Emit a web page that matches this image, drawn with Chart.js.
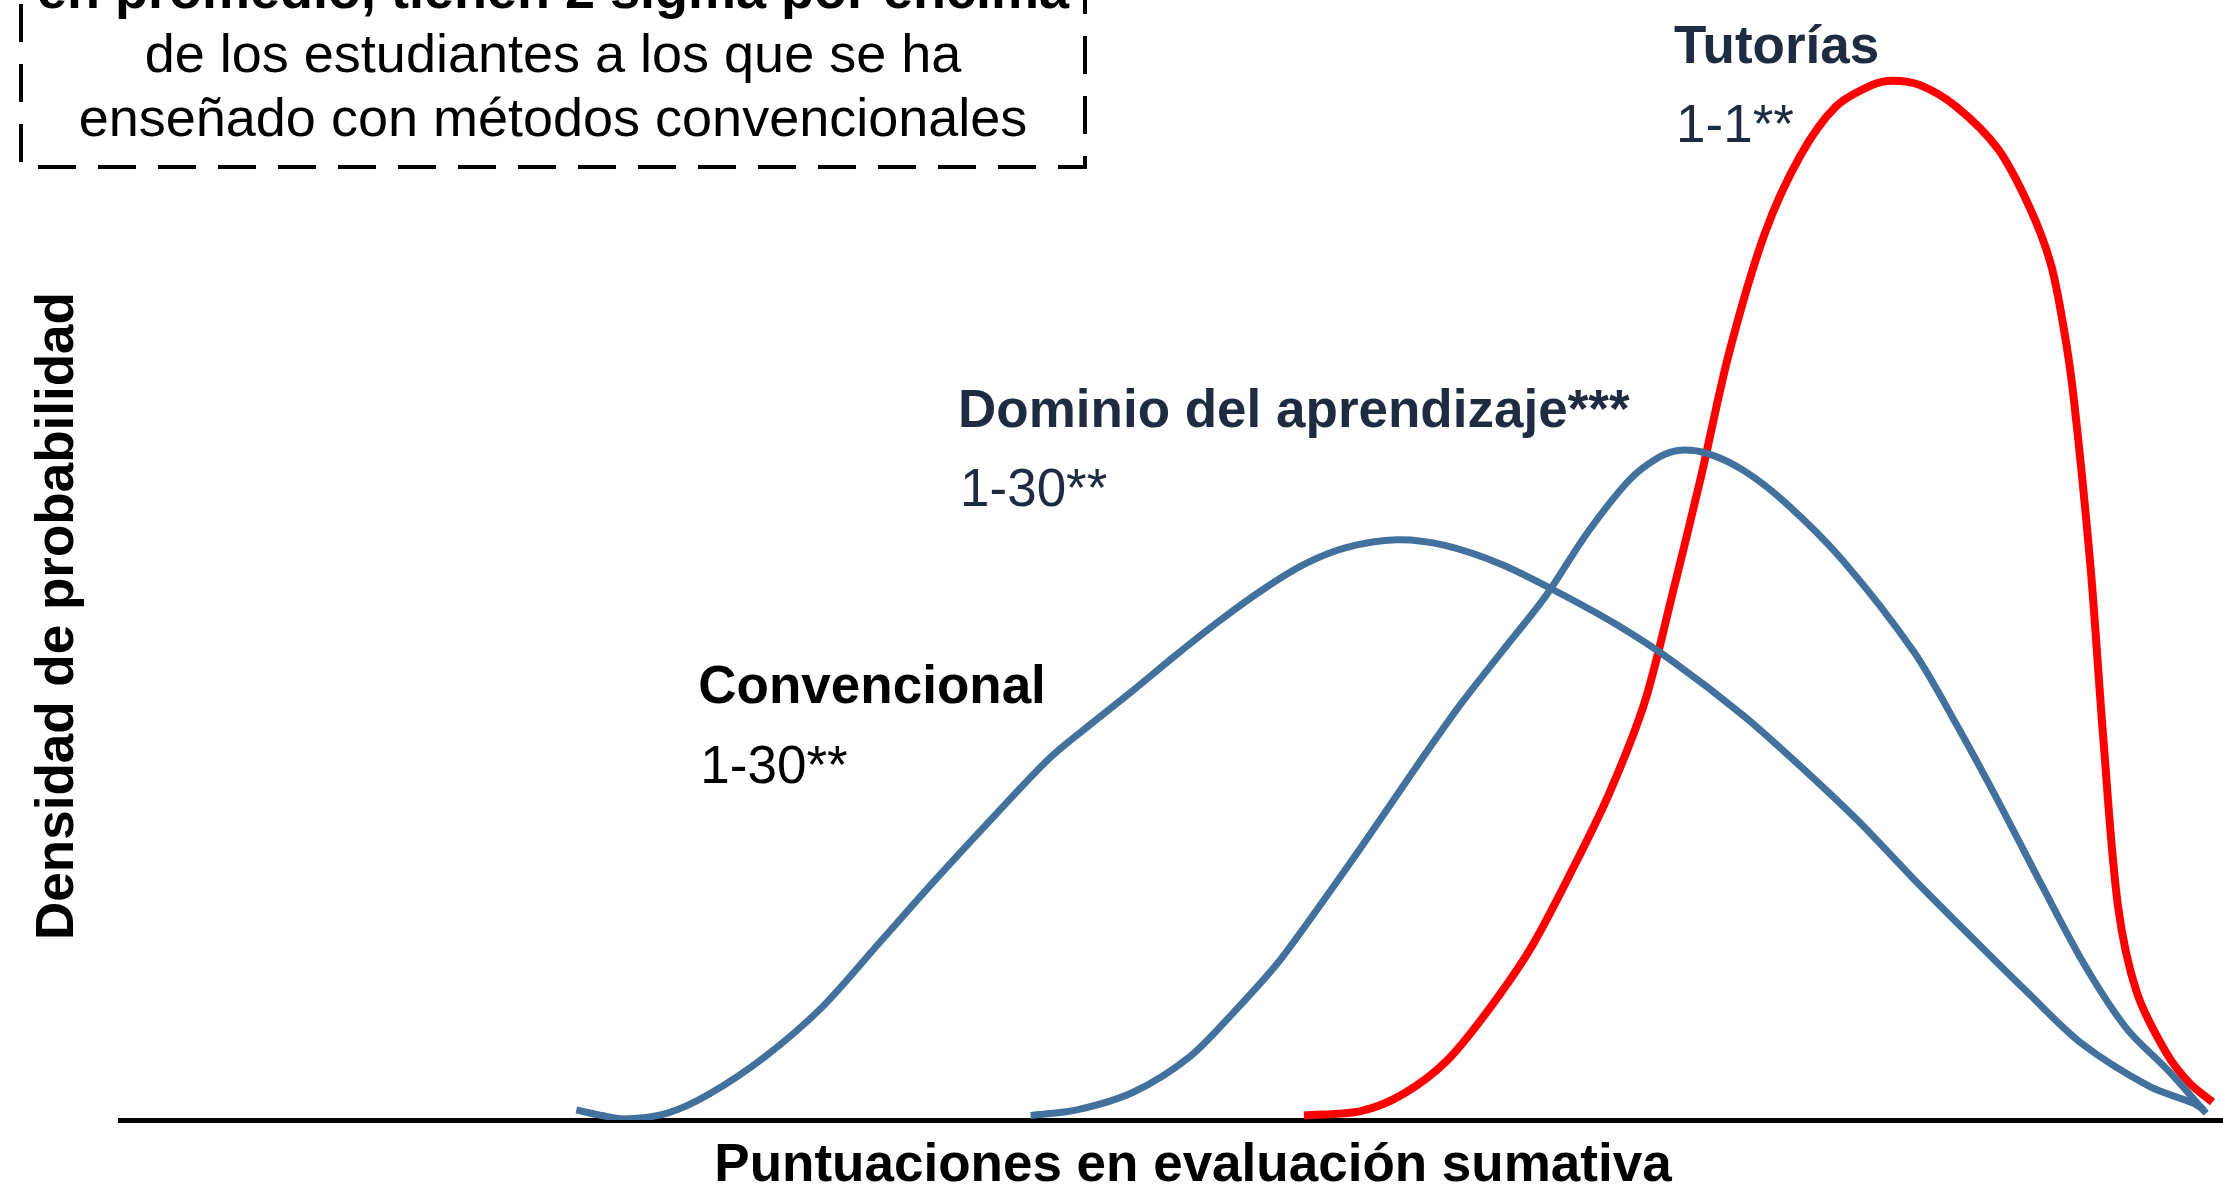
<!DOCTYPE html>
<html>
<head>
<meta charset="utf-8">
<script src="https://cdn.jsdelivr.net/npm/chart.js@4.4.1/dist/chart.umd.min.js"></script>
<style>
  html, body { margin: 0; padding: 0; background: #fff; }
  #wrap { width: 2223px; height: 1191px; position: relative; }
</style>
</head>
<body>
<div id="wrap"><canvas id="chart"></canvas></div>
<script>
// --- DATA (score on x, relative density on y) ---
const convScores = [21.7, 22.9, 24.0, 26.0, 28.0, 30.7, 33.4, 36.1, 38.8, 41.5, 44.2, 46.2, 48.2, 50.2, 52.3, 54.3, 56.3, 58.3, 60.7, 63.0, 65.7, 68.4, 71.1, 73.8, 77.2, 79.9, 82.6, 85.3, 88.0, 90.7, 93.3, 96.5, 98.6, 99.1];
const convDensity = [0.9, 0.4, 0.1, 0.6, 2.3, 5.7, 10.1, 15.8, 21.5, 27.0, 32.3, 35.4, 38.4, 41.5, 44.6, 47.3, 49.6, 51.1, 51.8, 51.3, 49.6, 47.1, 44.3, 41.0, 36.1, 31.6, 26.8, 21.5, 16.4, 11.4, 6.8, 3.0, 1.5, 0.9];

const masteryScores = [43.3, 45.5, 48.2, 50.9, 52.9, 55.0, 57.0, 59.0, 61.7, 63.7, 65.7, 67.8, 69.8, 71.8, 73.2, 74.2, 75.5, 77.2, 79.2, 81.9, 85.3, 87.3, 89.3, 91.4, 93.4, 95.4, 97.4, 99.2];
const masteryDensity = [0.4, 0.9, 2.5, 5.7, 9.5, 13.9, 19.0, 24.3, 31.7, 37.0, 41.8, 46.8, 52.5, 57.2, 59.2, 59.8, 59.5, 58.0, 55.1, 50.0, 41.8, 35.4, 28.5, 20.9, 13.9, 8.2, 4.4, 0.6];

const tutorScores = [56.3, 59.0, 61.0, 63.1, 65.1, 67.1, 69.1, 70.8, 72.5, 73.8, 75.2, 76.5, 78.2, 79.9, 81.6, 83.3, 84.3, 85.6, 87.3, 89.3, 90.8, 91.8, 92.4, 92.9, 93.7, 94.3, 95.0, 95.9, 97.3, 98.4, 99.5];
const tutorDensity = [0.4, 0.8, 2.3, 5.3, 9.9, 15.4, 22.5, 29.1, 37.3, 46.8, 57.6, 68.4, 79.1, 86.1, 90.5, 92.4, 92.8, 92.4, 90.5, 86.7, 81.5, 76.5, 71.0, 64.5, 49.4, 34.3, 19.2, 11.4, 6.0, 3.3, 1.6];

const groupNames = ['Convencional', 'Dominio del aprendizaje***', 'Tutorías'];
const groupRatios = ['1-30**', '1-30**', '1-1**'];
const noteLines = ['en promedio, tienen 2 sigma por encima', 'de los estudiantes a los que se ha', 'enseñado con métodos convencionales'];
const xTitle = 'Puntuaciones en evaluación sumativa';
const yTitle = 'Densidad de probabilidad';

// --- STYLE ---
const FONT = '"Liberation Sans", Arial, Helvetica, sans-serif';
const BLUE = '#41719c';
const RED = '#ff0000';
const NAVY = '#1e2b41';

function toPoints(xs, ys) {
    return xs.map((x, i) => ({ x: x, y: ys[i] }));
}

// labels placed in data space (score, density)
const labelSpots = [
    { x: 27.5, y: 37.2, color: '#000' },
    { x: 39.85, y: 61.9, color: NAVY },
    { x: 73.9, y: 94.4, color: NAVY }
];
const ratioGap = 7.1; // density units between name and ratio line

const notesPlugin = {
    id: 'notes',
    afterDraw(chart) {
        const ctx = chart.ctx;
        const xs = chart.scales.x;
        const ys = chart.scales.y;
        ctx.save();

        // group labels
        ctx.textAlign = 'left';
        ctx.textBaseline = 'alphabetic';
        labelSpots.forEach((s, i) => {
            const px = xs.getPixelForValue(s.x);
            ctx.fillStyle = s.color;
            ctx.font = 'bold 53px ' + FONT;
            ctx.fillText(groupNames[i], px, ys.getPixelForValue(s.y));
            ctx.font = '53px ' + FONT;
            ctx.fillText(groupRatios[i], px + 2, ys.getPixelForValue(s.y - ratioGap));
        });

        // dashed note box, cut by the top edge
        ctx.strokeStyle = '#000';
        ctx.lineWidth = 4;
        ctx.setLineDash([38, 22]);
        ctx.strokeRect(21, -40, 1064, 207);
        ctx.setLineDash([]);
        ctx.fillStyle = '#000';
        ctx.textAlign = 'center';
        ctx.font = 'bold 54px ' + FONT;
        ctx.fillText(noteLines[0], 553, 8);
        ctx.font = '54px ' + FONT;
        ctx.fillText(noteLines[1], 553, 72);
        ctx.fillText(noteLines[2], 553, 136);

        // axis titles
        ctx.font = 'bold 53px ' + FONT;
        ctx.textBaseline = 'middle';
        ctx.fillText(xTitle, 1193, 1166);
        ctx.translate(58, 616);
        ctx.rotate(-Math.PI / 2);
        ctx.fillText(yTitle, 0, 0);
        ctx.restore();
    }
};

const ctx = document.getElementById('chart').getContext('2d');
new Chart(ctx, {
    type: 'scatter',
    data: {
        datasets: [
            {
                label: groupNames[0],
                data: toPoints(convScores, convDensity),
                borderColor: BLUE,
                borderWidth: 7
            },
            {
                label: groupNames[1],
                data: toPoints(masteryScores, masteryDensity),
                borderColor: BLUE,
                borderWidth: 7
            },
            {
                label: groupNames[2],
                data: toPoints(tutorScores, tutorDensity),
                borderColor: RED,
                borderWidth: 8
            }
        ]
    },
    options: {
        responsive: true,
        maintainAspectRatio: false,
        animation: false,
        showLine: true,
        elements: {
            point: { radius: 0, hoverRadius: 0 },
            line: { tension: 0.3, fill: false, borderCapStyle: 'butt' }
        },
        layout: { padding: { left: 120, right: 0, top: 0, bottom: 71 } },
        plugins: {
            legend: { display: false },
            tooltip: { enabled: false }
        },
        scales: {
            x: {
                type: 'linear',
                min: 0,
                max: 100,
                ticks: { display: false },
                grid: { display: false, drawTicks: false },
                border: { display: true, color: '#000', width: 5 }
            },
            y: {
                display: false,
                min: 0,
                max: 100
            }
        }
    },
    plugins: [notesPlugin]
});
</script>
</body>
</html>
